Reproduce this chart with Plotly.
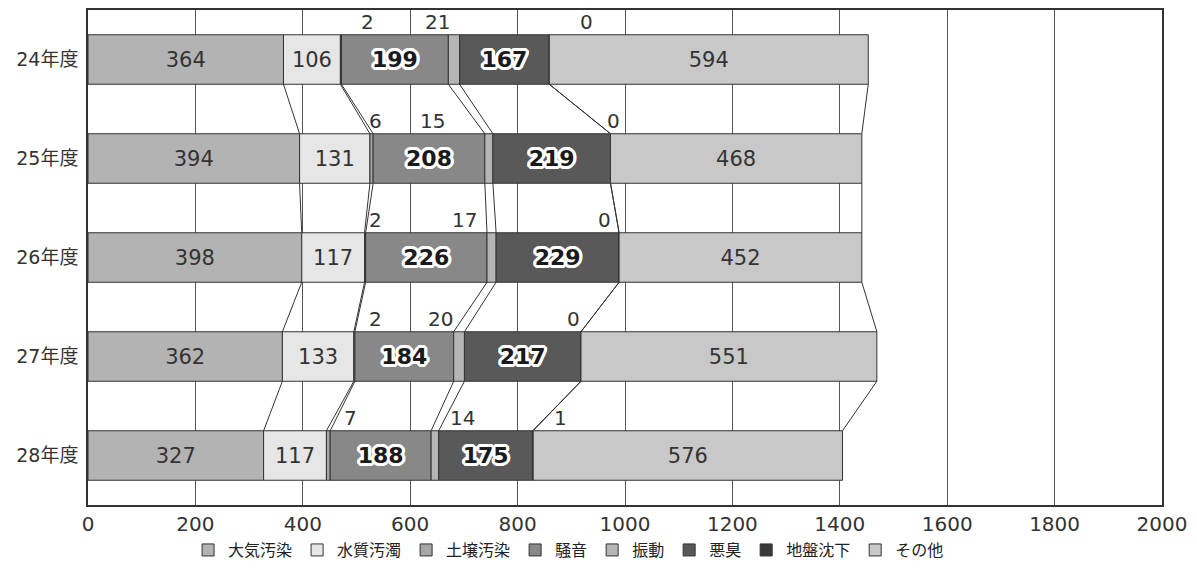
import plotly.graph_objects as go

# 公害苦情件数（種類別・年度別）
years = ["24年度", "25年度", "26年度", "27年度", "28年度"]
categories = ["大気汚染", "水質汚濁", "土壌汚染", "騒音", "振動", "悪臭", "地盤沈下", "その他"]

air = [364, 394, 398, 362, 327]
water = [106, 131, 117, 133, 117]
soil = [2, 6, 2, 2, 7]
noise = [199, 208, 226, 184, 188]
vibration = [21, 15, 17, 20, 14]
odor = [167, 219, 229, 217, 175]
subsidence = [0, 0, 0, 0, 1]
other = [594, 468, 452, 551, 576]

series = [air, water, soil, noise, vibration, odor, subsidence, other]

# style per series
colors = ["#b3b3b3", "#e6e6e6", "#a6a6a6", "#888888", "#b5b5b5", "#595959", "#3a3a3a", "#c8c8c8"]
# how each value label is drawn: "plain" inside, "outline" inside, "above" the bar
label_mode = ["plain", "plain", "above", "outline", "above", "outline", "above", "plain"]
# horizontal offsets (data units) of the labels drawn above the bar, per year
above_dx = {
    2: [49, 5, 19, 39, 37],
    4: [-42, -112, -58, -44, 45],
    6: [70, 6, -28, -13, 50],
}

FONT = "Noto Sans CJK JP, Noto Sans, sans-serif"
NUMFONT = "DejaVu Sans, Noto Sans CJK JP, sans-serif"
TEXT = "#333333"
OUTLINE = ", ".join(
    f"{dx}px {dy}px 0 #ffffff"
    for dx, dy in [(-2, -2), (2, -2), (-2, 2), (2, 2), (0, 3), (3, 0), (0, -3), (-3, 0),
                   (-1, -3), (1, -3), (-1, 3), (1, 3), (-3, 1), (3, 1), (-3, -1), (3, -1)]
)

ypos = list(range(len(years)))
BAR_W = 0.5

fig = go.Figure()

# running totals for series connector lines and above-bar labels
cum_start = [0] * len(years)
ends = []
for k, (name, vals) in enumerate(zip(categories, series)):
    mode = label_mode[k]
    if mode == "above":
        text = [""] * len(vals)
        tfont = dict(family=NUMFONT, size=20, color=TEXT)
    elif mode == "outline":
        text = [str(v) for v in vals]
        tfont = dict(family=NUMFONT, size=22, color="#1a1a1a", weight="bold", shadow=OUTLINE)
    else:
        text = [str(v) for v in vals]
        tfont = dict(family=NUMFONT, size=21, color=TEXT)
    fig.add_trace(go.Bar(
        name=name,
        x=vals,
        y=ypos,
        base=cum_start,
        orientation="h",
        width=BAR_W,
        marker=dict(color=colors[k], line=dict(color="#333333", width=1)),
        text=text,
        textposition="inside",
        insidetextanchor="middle",
        textangle=0,
        textfont=tfont,
        hoverinfo="x+name",
    ))
    end = [s + v for s, v in zip(cum_start, vals)]
    ends.append(end)
    if mode == "above":
        for i, v in enumerate(vals):
            fig.add_annotation(
                x=end[i] + above_dx[k][i], y=ypos[i] - BAR_W / 2,
                xref="x", yref="y", text=str(v), showarrow=False,
                xanchor="center", yanchor="bottom", yshift=-1,
                font=dict(family=NUMFONT, size=20, color=TEXT),
            )
    cum_start = end

# series lines joining segment boundaries of consecutive bars
lx, ly = [], []
for end in ends:
    for i in range(len(years) - 1):
        lx += [end[i], end[i + 1], None]
        ly += [ypos[i] + BAR_W / 2, ypos[i + 1] - BAR_W / 2, None]
fig.add_trace(go.Scatter(
    x=lx, y=ly, mode="lines", line=dict(color="#333333", width=1),
    showlegend=False, hoverinfo="skip",
))

fig.update_layout(
    barmode="overlay",
    width=1197, height=570,
    margin=dict(l=88, r=35, t=10, b=65, autoexpand=False),
    paper_bgcolor="white",
    plot_bgcolor="white",
    font=dict(family=FONT, color=TEXT),
    legend=dict(
        orientation="h", xref="container", x=0.475, xanchor="center",
        yref="container", y=0.035, yanchor="middle",
        font=dict(family=FONT, size=16, color="#222222"),
        itemwidth=30, traceorder="normal",
    ),
    uniformtext=dict(mode=False),
)
fig.update_xaxes(
    range=[0, 2000], tickvals=list(range(0, 2001, 200)),
    showgrid=True, gridcolor="#555555", gridwidth=1,
    showline=True, linecolor="#333333", linewidth=1.5, mirror=True,
    ticks="", tickfont=dict(family=NUMFONT, size=20, color=TEXT),
    zeroline=False, fixedrange=True,
)
fig.update_yaxes(
    range=[len(years) - 0.5, -0.5], tickvals=ypos, ticktext=years,
    showgrid=False, showline=True, linecolor="#333333", linewidth=1.5, mirror=True,
    ticks="", ticklabelstandoff=4, tickfont=dict(family=NUMFONT, size=19, color=TEXT),
    zeroline=False, fixedrange=True,
)

fig.write_html("out.html")
